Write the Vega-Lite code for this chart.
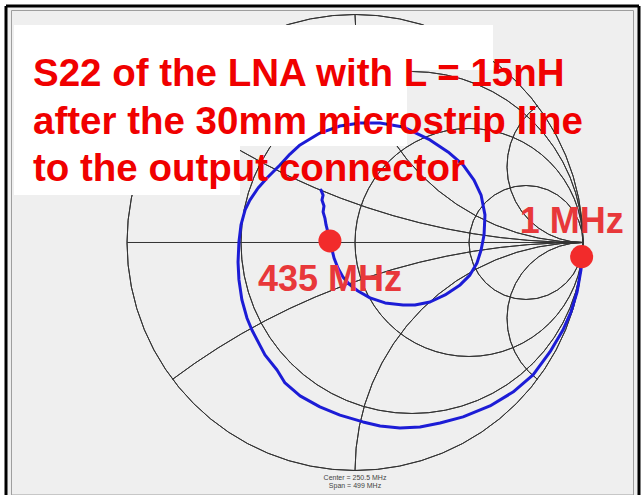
{
  "$schema": "https://vega.github.io/schema/vega-lite/v6.json",
  "width": 633,
  "height": 489,
  "autosize": {"type": "none"},
  "padding": {"left": 6, "top": 6, "right": 4, "bottom": 0},
  "background": "white",
  "config": {"view": {"fill": "#efefef", "stroke": null}},
  "datasets": {
    "grid": [
      {"curve": "|G|=1", "cx": 0, "cy": 0, "rad": 1, "a0": 0, "a1": 360},
      {"curve": "r=1/3", "cx": 0.25, "cy": 0, "rad": 0.75, "a0": 0, "a1": 360},
      {"curve": "r=1", "cx": 0.5, "cy": 0, "rad": 0.5, "a0": 0, "a1": 360},
      {"curve": "r=3", "cx": 0.75, "cy": 0, "rad": 0.25, "a0": 0, "a1": 360},
      {"curve": "x=+1/3", "cx": 1, "cy": 3, "rad": 3, "a0": 180, "a1": 216.87},
      {"curve": "x=+1", "cx": 1, "cy": 1, "rad": 1, "a0": 180, "a1": 270},
      {"curve": "x=+3", "cx": 1, "cy": 0.3333, "rad": 0.3333, "a0": 180, "a1": 323.13},
      {"curve": "x=-1/3", "cx": 1, "cy": -3, "rad": 3, "a0": 323.13, "a1": 360},
      {"curve": "x=-1", "cx": 1, "cy": -1, "rad": 1, "a0": 270, "a1": 360},
      {"curve": "x=-3", "cx": 1, "cy": -0.3333, "rad": 0.3333, "a0": 216.87, "a1": 360}
    ],
    "s22": [
      {"n": 1, "re": 0.996, "im": -0.064},
      {"n": 2, "re": 0.991, "im": -0.121},
      {"n": 3, "re": 0.974, "im": -0.217},
      {"n": 4, "re": 0.947, "im": -0.305},
      {"n": 5, "re": 0.912, "im": -0.384},
      {"n": 6, "re": 0.855, "im": -0.480},
      {"n": 7, "re": 0.781, "im": -0.581},
      {"n": 8, "re": 0.693, "im": -0.656},
      {"n": 9, "re": 0.592, "im": -0.717},
      {"n": 10, "re": 0.474, "im": -0.765},
      {"n": 11, "re": 0.373, "im": -0.792},
      {"n": 12, "re": 0.285, "im": -0.809},
      {"n": 13, "re": 0.197, "im": -0.814},
      {"n": 14, "re": 0.110, "im": -0.805},
      {"n": 15, "re": 0.035, "im": -0.787},
      {"n": 16, "re": -0.066, "im": -0.757},
      {"n": 17, "re": -0.154, "im": -0.721},
      {"n": 18, "re": -0.241, "im": -0.673},
      {"n": 19, "re": -0.307, "im": -0.616},
      {"n": 20, "re": -0.342, "im": -0.559},
      {"n": 21, "re": -0.395, "im": -0.493},
      {"n": 22, "re": -0.452, "im": -0.384},
      {"n": 23, "re": -0.474, "im": -0.331},
      {"n": 24, "re": -0.496, "im": -0.252},
      {"n": 25, "re": -0.509, "im": -0.164},
      {"n": 26, "re": -0.513, "im": -0.086},
      {"n": 27, "re": -0.509, "im": 0.002},
      {"n": 28, "re": -0.500, "im": 0.077},
      {"n": 29, "re": -0.482, "im": 0.143},
      {"n": 30, "re": -0.461, "im": 0.186},
      {"n": 31, "re": -0.425, "im": 0.239},
      {"n": 32, "re": -0.386, "im": 0.283},
      {"n": 33, "re": -0.329, "im": 0.340},
      {"n": 34, "re": -0.285, "im": 0.388},
      {"n": 35, "re": -0.241, "im": 0.428},
      {"n": 36, "re": -0.154, "im": 0.480},
      {"n": 37, "re": -0.066, "im": 0.511},
      {"n": 38, "re": 0.022, "im": 0.524},
      {"n": 39, "re": 0.110, "im": 0.524},
      {"n": 40, "re": 0.211, "im": 0.507},
      {"n": 41, "re": 0.329, "im": 0.450},
      {"n": 42, "re": 0.408, "im": 0.397},
      {"n": 43, "re": 0.474, "im": 0.340},
      {"n": 44, "re": 0.522, "im": 0.274},
      {"n": 45, "re": 0.553, "im": 0.208},
      {"n": 46, "re": 0.570, "im": 0.121},
      {"n": 47, "re": 0.566, "im": 0.033},
      {"n": 48, "re": 0.553, "im": -0.033},
      {"n": 49, "re": 0.535, "im": -0.090},
      {"n": 50, "re": 0.504, "im": -0.143},
      {"n": 51, "re": 0.461, "im": -0.186},
      {"n": 52, "re": 0.395, "im": -0.230},
      {"n": 53, "re": 0.329, "im": -0.261},
      {"n": 54, "re": 0.263, "im": -0.274},
      {"n": 55, "re": 0.211, "im": -0.274},
      {"n": 56, "re": 0.132, "im": -0.265},
      {"n": 57, "re": 0.066, "im": -0.243},
      {"n": 58, "re": 0.013, "im": -0.213},
      {"n": 59, "re": -0.022, "im": -0.186},
      {"n": 60, "re": -0.053, "im": -0.151},
      {"n": 61, "re": -0.075, "im": -0.112},
      {"n": 62, "re": -0.092, "im": -0.068},
      {"n": 63, "re": -0.110, "im": 0.007},
      {"n": 64, "re": -0.118, "im": 0.042},
      {"n": 65, "re": -0.127, "im": 0.077},
      {"n": 66, "re": -0.132, "im": 0.107},
      {"n": 67, "re": -0.140, "im": 0.134},
      {"n": 68, "re": -0.136, "im": 0.160},
      {"n": 69, "re": -0.145, "im": 0.186},
      {"n": 70, "re": -0.140, "im": 0.208},
      {"n": 71, "re": -0.149, "im": 0.230}
    ],
    "markers": [
      {"label": "1 MHz", "re": 0.994, "im": -0.062},
      {"label": "435 MHz", "re": -0.110, "im": 0.007}
    ]
  },
  "layer": [
    {
      "data": {"values": [{}]},
      "mark": {"type": "rect", "fillOpacity": 0, "stroke": "#9e9e9e", "strokeWidth": 1},
      "encoding": {
        "x": {"datum": -1.5066, "type": "quantitative", "scale": {"domain": [-1.5307, 1.2456], "nice": false, "zero": false}, "axis": null},
        "x2": {"datum": 1.2215},
        "y": {"datum": 1.0175, "type": "quantitative", "scale": {"domain": [-1.1075, 1.0373], "nice": false, "zero": false}, "axis": null},
        "y2": {"datum": -1.1075}
      }
    },
    {
      "data": {"name": "grid"},
      "mark": {"type": "arc", "fillOpacity": 0, "stroke": "#333333", "strokeWidth": 1},
      "encoding": {
        "x": {"field": "cx", "type": "quantitative"},
        "y": {"field": "cy", "type": "quantitative"},
        "radius": {"field": "rad", "type": "quantitative", "scale": {"type": "linear", "domain": [0, 1], "range": [0, 228], "zero": true}},
        "radius2": {"field": "rad"},
        "theta": {"field": "a0", "type": "quantitative", "stack": null, "scale": {"type": "linear", "domain": [0, 360], "range": [0, 6.283185307]}},
        "theta2": {"field": "a1"}
      }
    },
    {
      "data": {"values": [{}]},
      "mark": {"type": "rule", "stroke": "#333333", "strokeWidth": 1},
      "encoding": {
        "x": {"datum": -1, "type": "quantitative"},
        "x2": {"datum": 1},
        "y": {"datum": 0, "type": "quantitative"}
      }
    },
    {
      "data": {"values": [{}]},
      "mark": {"type": "rect", "fill": "white"},
      "encoding": {
        "x": {"datum": -1.4956, "type": "quantitative"},
        "x2": {"datum": 0.6053},
        "y": {"datum": 0.9539, "type": "quantitative"},
        "y2": {"datum": 0.7566}
      }
    },
    {
      "data": {"values": [{}]},
      "mark": {"type": "rect", "fill": "white"},
      "encoding": {
        "x": {"datum": -1.4956, "type": "quantitative"},
        "x2": {"datum": 0.2281},
        "y": {"datum": 0.7566, "type": "quantitative"},
        "y2": {"datum": 0.4232}
      }
    },
    {
      "data": {"values": [{}]},
      "mark": {"type": "rect", "fill": "white"},
      "encoding": {
        "x": {"datum": -1.4956, "type": "quantitative"},
        "x2": {"datum": -0.5044},
        "y": {"datum": 0.4232, "type": "quantitative"},
        "y2": {"datum": 0.2083}
      }
    },
    {
      "data": {"name": "s22"},
      "mark": {"type": "line", "stroke": "#1c1cd6", "strokeWidth": 3, "strokeJoin": "round", "strokeCap": "round"},
      "encoding": {
        "x": {"field": "re", "type": "quantitative"},
        "y": {"field": "im", "type": "quantitative"},
        "order": {"field": "n", "type": "quantitative"}
      }
    },
    {
      "data": {"name": "markers"},
      "mark": {"type": "circle", "size": 530, "color": "#f22b2b", "opacity": 1},
      "encoding": {
        "x": {"field": "re", "type": "quantitative"},
        "y": {"field": "im", "type": "quantitative"}
      }
    },
    {
      "data": {"name": "markers"},
      "transform": [{"filter": "datum.label === '1 MHz'"}],
      "mark": {"type": "text", "font": "Liberation Sans", "fontWeight": "bold", "fontSize": 36, "color": "#e8383a", "align": "center", "baseline": "alphabetic", "dx": -10, "dy": -24},
      "encoding": {
        "x": {"field": "re", "type": "quantitative"},
        "y": {"field": "im", "type": "quantitative"},
        "text": {"field": "label"}
      }
    },
    {
      "data": {"name": "markers"},
      "transform": [{"filter": "datum.label === '435 MHz'"}],
      "mark": {"type": "text", "font": "Liberation Sans", "fontWeight": "bold", "fontSize": 36, "color": "#e8383a", "align": "center", "baseline": "alphabetic", "dx": 0, "dy": 50},
      "encoding": {
        "x": {"field": "re", "type": "quantitative"},
        "y": {"field": "im", "type": "quantitative"},
        "text": {"field": "label"}
      }
    },
    {
      "data": {"values": [{}]},
      "mark": {"type": "text", "text": ["S22 of the LNA with L = 15nH", "after the 30mm microstrip line", "to the output connector"], "font": "Liberation Sans", "fontWeight": "bold", "fontSize": 38.5, "lineHeight": 47.5, "color": "#f00000", "align": "left", "baseline": "alphabetic"},
      "encoding": {
        "x": {"datum": -1.4123, "type": "quantitative"},
        "y": {"datum": 0.6864, "type": "quantitative"}
      }
    },
    {
      "data": {"values": [{}]},
      "mark": {"type": "text", "text": ["Center = 250.5 MHz", "Span = 499 MHz"], "font": "Liberation Sans", "fontSize": 7, "lineHeight": 8, "color": "#444444", "align": "center", "baseline": "alphabetic"},
      "encoding": {
        "x": {"datum": 0, "type": "quantitative"},
        "y": {"datum": -1.0417, "type": "quantitative"}
      }
    },
    {
      "data": {"values": [{}]},
      "mark": {"type": "rule", "stroke": "#000000", "strokeWidth": 3},
      "encoding": {"x": {"datum": -1.5307, "type": "quantitative"}}
    },
    {
      "data": {"values": [{}]},
      "mark": {"type": "rule", "stroke": "#000000", "strokeWidth": 3},
      "encoding": {"x": {"datum": 1.2456, "type": "quantitative"}}
    },
    {
      "data": {"values": [{}]},
      "mark": {"type": "rule", "stroke": "#000000", "strokeWidth": 3},
      "encoding": {"y": {"datum": 1.0373, "type": "quantitative"}}
    }
  ]
}
